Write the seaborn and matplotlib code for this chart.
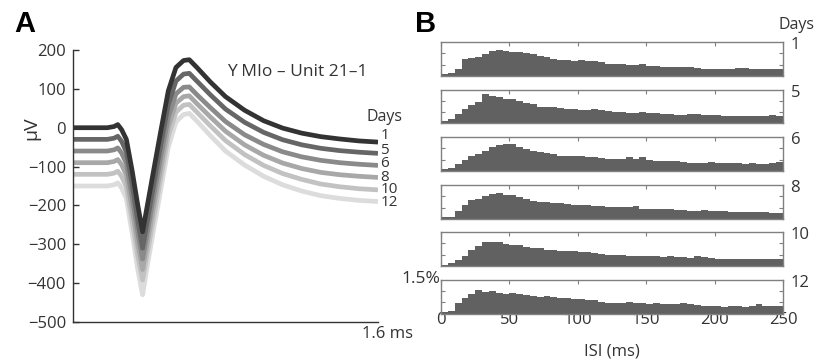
import numpy as np
import pandas as pd
import matplotlib
matplotlib.use("Agg")
import matplotlib.pyplot as plt
import matplotlib.transforms as mtransforms
import seaborn as sns

# ---------------- data ----------------
days = ["1", "5", "6", "8", "10", "12"]
day_colors = ["#333333", "#666666", "#8a8a8a", "#a8a8a8", "#c2c2c2", "#dcdcdc"]

# waveform sample times (ms)
t_ms = [0.0, 0.10, 0.18, 0.215, 0.235, 0.255, 0.28, 0.31, 0.34, 0.365, 0.39, 0.42,
        0.46, 0.50, 0.54, 0.58, 0.61, 0.65, 0.72, 0.80, 0.90, 1.00, 1.10, 1.20,
        1.30, 1.40, 1.50, 1.60]

wf_day1 = [0, 0, 0, 3, 8, -5, -30, -110, -200, -268, -200, -118,
           -10, 95, 155, 173, 175, 155, 118, 80, 45, 18, -1, -14,
           -23, -29, -34, -37]
wf_day5 = [-30, -30, -30, -27, -22, -35, -62, -145, -240, -310, -240, -155,
           -45, 60, 120, 138, 140, 120, 85, 48, 14, -12, -31, -44,
           -53, -59, -63, -66]
wf_day6 = [-60, -60, -60, -57, -52, -65, -92, -178, -270, -338, -268, -185,
           -75, 28, 87, 104, 105, 85, 52, 16, -18, -43, -62, -75,
           -84, -90, -94, -97]
wf_day8 = [-90, -90, -90, -87, -82, -95, -122, -208, -300, -365, -295, -212,
           -103, 3, 63, 80, 82, 62, 28, -9, -44, -71, -91, -105,
           -115, -121, -125, -128]
wf_day10 = [-120, -120, -120, -117, -112, -125, -152, -238, -330, -392, -322, -240,
            -130, -22, 40, 58, 60, 40, 5, -33, -69, -97, -118, -133,
            -145, -152, -157, -160]
wf_day12 = [-150, -150, -150, -147, -142, -155, -182, -270, -365, -430, -355, -270,
            -160, -50, 15, 34, 37, 17, -20, -60, -96, -125, -147, -163,
            -175, -182, -187, -190]

# ISI histograms: 5 ms bins from 0 to 250 ms, values in %
isi_centers = [2.5 + 5 * i for i in range(50)]
isi_day1 = [0.10, 0.15, 0.30, 0.75, 0.78, 0.85, 0.95, 1.10, 1.15, 1.10,
            1.05, 1.05, 1.00, 0.95, 0.90, 0.82, 0.75, 0.72, 0.72, 0.68,
            0.70, 0.66, 0.68, 0.60, 0.55, 0.52, 0.52, 0.50, 0.48, 0.52,
            0.45, 0.42, 0.40, 0.38, 0.40, 0.38, 0.38, 0.35, 0.33, 0.33,
            0.32, 0.33, 0.33, 0.35, 0.34, 0.32, 0.33, 0.32, 0.31, 0.30]
isi_day5 = [0.12, 0.18, 0.40, 0.65, 0.80, 0.95, 1.30, 1.22, 1.15, 1.10,
            1.07, 0.98, 0.92, 0.85, 0.75, 0.75, 0.72, 0.70, 0.62, 0.64,
            0.60, 0.60, 0.62, 0.58, 0.55, 0.52, 0.50, 0.48, 0.45, 0.52,
            0.45, 0.45, 0.42, 0.40, 0.38, 0.38, 0.40, 0.42, 0.38, 0.38,
            0.36, 0.33, 0.33, 0.33, 0.35, 0.32, 0.32, 0.33, 0.36, 0.33]
isi_day6 = [0.10, 0.12, 0.30, 0.50, 0.65, 0.75, 0.90, 1.05, 1.15, 1.18,
            1.17, 1.08, 0.98, 0.88, 0.82, 0.80, 0.75, 0.68, 0.65, 0.65,
            0.66, 0.62, 0.60, 0.56, 0.55, 0.55, 0.55, 0.60, 0.52, 0.60,
            0.48, 0.45, 0.43, 0.42, 0.44, 0.40, 0.35, 0.36, 0.36, 0.38,
            0.36, 0.34, 0.36, 0.34, 0.33, 0.35, 0.33, 0.32, 0.36, 0.38]
isi_day8 = [0.08, 0.10, 0.35, 0.60, 0.82, 0.88, 1.02, 1.12, 1.15, 1.07,
            1.07, 0.98, 0.90, 0.78, 0.76, 0.74, 0.72, 0.70, 0.64, 0.62,
            0.60, 0.60, 0.56, 0.58, 0.55, 0.52, 0.52, 0.55, 0.58, 0.45,
            0.43, 0.42, 0.43, 0.42, 0.40, 0.38, 0.37, 0.37, 0.38, 0.35,
            0.34, 0.34, 0.32, 0.33, 0.32, 0.31, 0.32, 0.30, 0.28, 0.28]
isi_day10 = [0.05, 0.15, 0.25, 0.45, 0.70, 0.90, 1.05, 1.08, 1.08, 0.95,
             0.93, 0.92, 0.85, 0.80, 0.78, 0.72, 0.70, 0.68, 0.66, 0.64,
             0.62, 0.60, 0.58, 0.52, 0.50, 0.48, 0.47, 0.46, 0.45, 0.44,
             0.42, 0.42, 0.41, 0.43, 0.40, 0.38, 0.37, 0.42, 0.38, 0.35,
             0.33, 0.32, 0.33, 0.32, 0.32, 0.33, 0.32, 0.31, 0.32, 0.30]
isi_day12 = [0.08, 0.12, 0.45, 0.70, 0.88, 1.05, 0.95, 1.00, 0.92, 0.88,
             0.90, 0.85, 0.80, 0.78, 0.75, 0.76, 0.72, 0.70, 0.68, 0.65,
             0.62, 0.60, 0.60, 0.52, 0.48, 0.45, 0.47, 0.50, 0.48, 0.46,
             0.44, 0.45, 0.43, 0.44, 0.40, 0.45, 0.42, 0.36, 0.34, 0.35,
             0.33, 0.30, 0.32, 0.31, 0.30, 0.33, 0.42, 0.35, 0.34, 0.35]

isi_ticks = [0, 50, 100, 150, 200, 250]
uv_ticks = [200, 100, 0, -100, -200, -300, -400, -500]

# ---------------- style ----------------
sns.set_style("white")
plt.rcParams["font.family"] = ["Open Sans", "DejaVu Sans"]
plt.rcParams["axes.unicode_minus"] = True
txt = "#333333"

fig = plt.figure(figsize=(8.2, 3.62), dpi=100)

# ---------------- panel A ----------------
waves = [wf_day1, wf_day5, wf_day6, wf_day8, wf_day10, wf_day12]
df = pd.concat([pd.DataFrame({"t": t_ms, "uV": w, "day": d}) for d, w in zip(days, waves)],
               ignore_index=True)
axA = fig.add_axes([73 / 820, 1 - 322 / 362, 305 / 820, 272 / 362])
sns.lineplot(data=df, x="t", y="uV", hue="day", hue_order=days[::-1],
             palette=dict(zip(days, day_colors)), linewidth=3.4, legend=False,
             ax=axA, sort=False)
for ln in axA.get_lines():
    ln.set_solid_joinstyle("round")
    ln.set_solid_capstyle("butt")
axA.set_xlim(0, 1.6)
axA.set_ylim(-500, 200)
axA.set_xticks([])
axA.set_yticks(uv_ticks)
axA.set_yticklabels([f"{v:d}".replace("-", "\u2212") for v in uv_ticks])
axA.tick_params(axis="y", direction="in", length=4, width=1, color=txt,
                labelsize=12, labelcolor=txt, pad=5, left=True)
axA.set_xlabel("")
axA.set_ylabel("")
for s in ["top", "right"]:
    axA.spines[s].set_visible(False)
for s in ["left", "bottom"]:
    axA.spines[s].set_color(txt)
    axA.spines[s].set_linewidth(1)

trA = mtransforms.blended_transform_factory(axA.transAxes, axA.transData)
axA.text(-0.135, 0, "\u00b5V", transform=trA, rotation=90, ha="center", va="center",
         fontsize=14, color=txt)
axA.text(0.81, 144, "Y MIo \u2013 Unit 21\u20131", ha="left", va="center",
         fontsize=12.5, color=txt)
axA.text(1.635, 28, "Days", ha="center", va="center", fontsize=11.5, color=txt, clip_on=False)
label_y = [-20, -58, -93, -127, -160, -192]
for d, yv in zip(days, label_y):
    axA.text(1.612, yv, d, ha="left", va="center", fontsize=11, color=txt, clip_on=False)
axA.text(1.65, -530, "1.6 ms", ha="center", va="center", fontsize=12, color=txt, clip_on=False)

fig.text(25 / 820, 1 - 24 / 362, "A", ha="center", va="center", fontsize=21,
         fontweight="bold", family=["Liberation Sans", "DejaVu Sans"], color="black")
fig.text(426 / 820, 1 - 24 / 362, "B", ha="center", va="center", fontsize=21,
         fontweight="bold", family=["Liberation Sans", "DejaVu Sans"], color="black")

# ---------------- panel B ----------------
hists = [isi_day1, isi_day5, isi_day6, isi_day8, isi_day10, isi_day12]
tops = [42, 89.5, 137, 185, 232, 279.5]
spine_c = "#808080"
for k, (d, h, top) in enumerate(zip(days, hists, tops)):
    ax = fig.add_axes([441 / 820, 1 - (top + 34) / 362, 342 / 820, 34 / 362])
    hdf = pd.DataFrame({"isi": isi_centers, "pct": h})
    sns.histplot(data=hdf, x="isi", weights="pct", binwidth=5, binrange=(0, 250),
                 element="step", fill=True,
                 color="#616161", alpha=1, linewidth=0, ax=ax)
    ax.set_xlim(0, 250)
    ax.set_ylim(0, 1.5)
    ax.set_yticks([0.5, 1.0])
    ax.set_yticklabels([])
    ax.set_xticks(isi_ticks)
    ax.set_ylabel("")
    ax.set_xlabel("")
    ax.tick_params(axis="both", direction="in", length=3, width=0.8, color=spine_c,
                   top=True, right=True, bottom=True, left=True)
    if k < 5:
        ax.set_xticklabels([])
    else:
        ax.set_xticklabels([str(v) for v in isi_ticks])
        ax.tick_params(axis="x", labelsize=12, labelcolor=txt, pad=-1)
        ax.set_xlabel("ISI (ms)", fontsize=12, color=txt, labelpad=11)
        ax.text(-0.003, 1.02, "1.5%", transform=ax.transAxes, ha="right", va="center",
                fontsize=12.5, color=txt)
    for s in ax.spines.values():
        s.set_visible(True)
        s.set_color(spine_c)
        s.set_linewidth(1)
    ax.text(1.022, 0.9, d, transform=ax.transAxes, ha="left", va="center",
            fontsize=12, color=txt)

fig.text(797 / 820, 1 - 25 / 362, "Days", ha="center", va="center", fontsize=11.5, color=txt)

fig.savefig("out.png", dpi=100)
